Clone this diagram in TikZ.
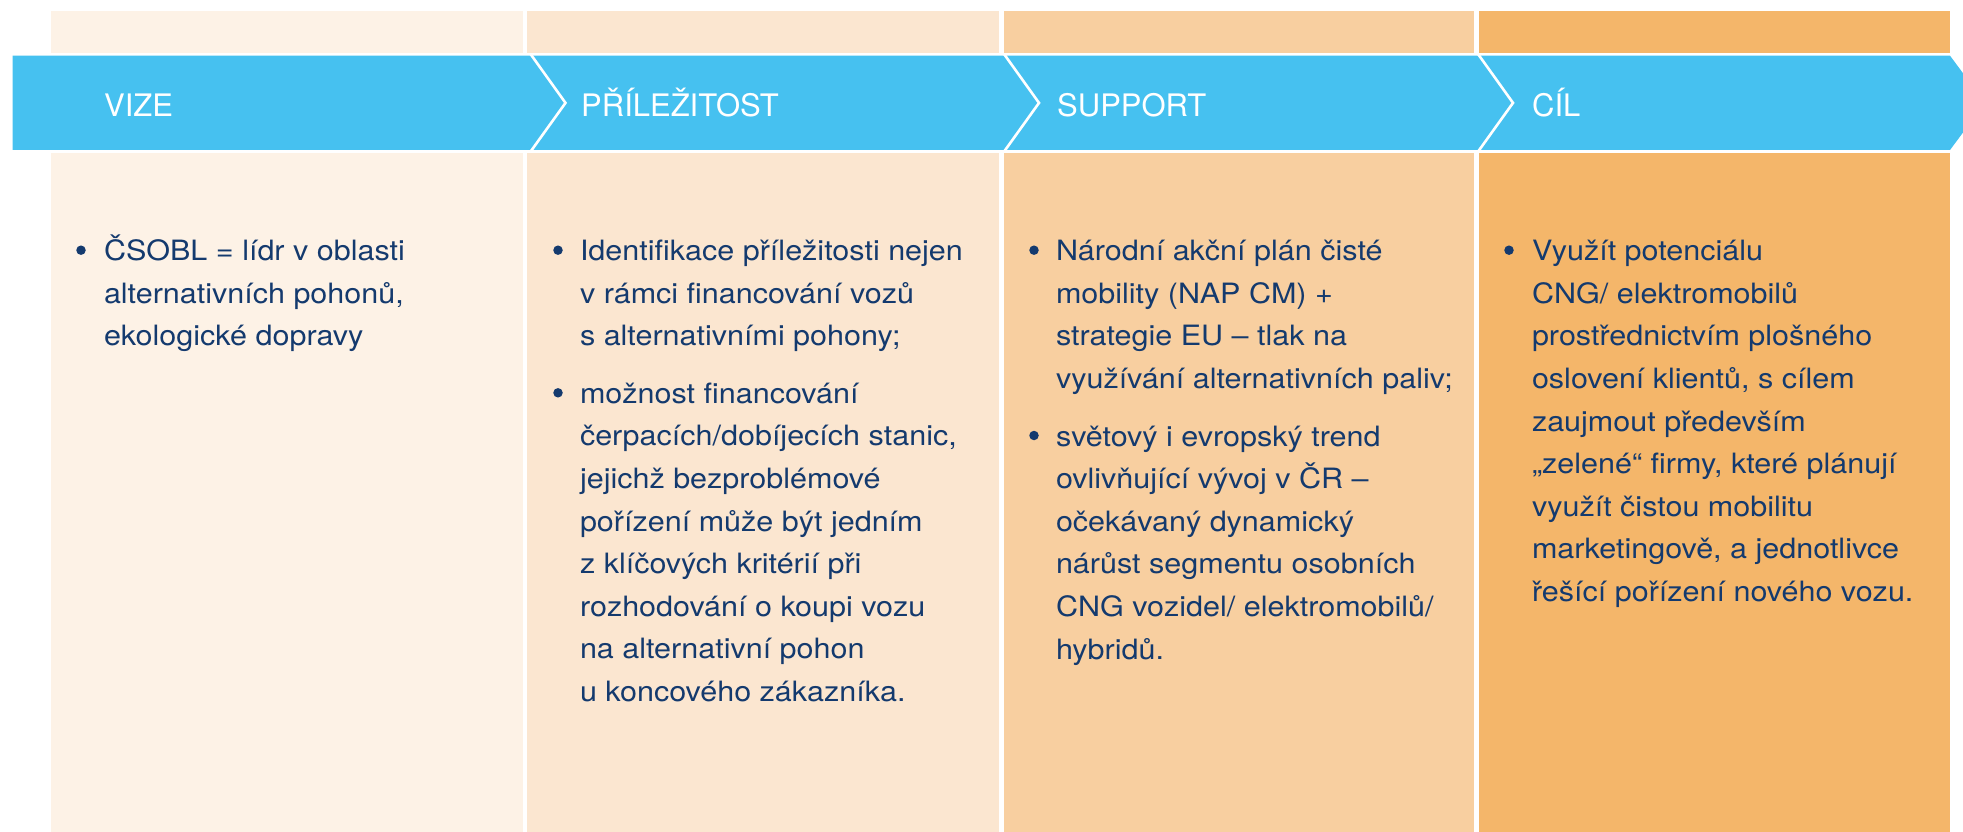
\documentclass[tikz,border=0pt]{standalone}
\usepackage{fontspec}
\setmainfont{TeX Gyre Heros}
\newfontfamily\bodyfam[FakeStretch=1.09]{TeX Gyre Heros}
\definecolor{colA}{HTML}{FDF2E6}
\definecolor{colB}{HTML}{FBE6D0}
\definecolor{colC}{HTML}{F8CFA0}
\definecolor{colD}{HTML}{F4B66A}
\definecolor{bandblue}{HTML}{46C1F0}
\definecolor{navy}{HTML}{143A6E}
\tikzset{
  body/.style={anchor=north west, inner sep=0pt, outer sep=0pt, align=left, text=navy,
    font=\bodyfam\fontsize{28}{42.6}\selectfont},
  head/.style={anchor=base west, inner sep=0pt, text=white,
    font=\fontsize{31}{36}\selectfont},
  bulletdot/.style={circle, fill=navy, inner sep=0pt, minimum size=9.5pt},
  chev/.style={draw=white, line width=2.6pt, line join=miter}
}
\begin{document}
\begin{tikzpicture}[x=1pt,y=-1pt]
\useasboundingbox (0,0) rectangle (1963,832);
\clip (0,0) rectangle (1963,832);
% columns
\fill[colA] (51,11) rectangle (522.5,832);
\fill[colB] (527,11) rectangle (999,832);
\fill[colC] (1003.5,11) rectangle (1474,832);
\fill[colD] (1478.5,11) rectangle (1950,832);
% white strip behind band
\fill[white] (0,53.3) rectangle (1963,152.7);
% band
\fill[bandblue] (12.6,55.7) -- (1950,55.7) -- (1985,102.9) -- (1950,150) -- (12.6,150) -- cycle;
\draw[chev] (530.5,54) -- (565.5,102.9) -- (530.5,151.7);
\draw[chev] (1004,54) -- (1039,102.9) -- (1004,151.7);
\draw[chev] (1478,54) -- (1513,102.9) -- (1478,151.7);
% headers
\node[head] (h1) at (104,116.7) {VIZE};
\node[head] (h2) at (581,116.7) {PŘÍLEŽITOST};
\node[head] (h3) at (1057,116.7) {SUPPORT};
\node[head] (h4) at (1532,116.7) {CÍL};
% column 1
\node[bulletdot] (b11) at (81,250.2) {};
\node[body] (t11) at (104,230.9) {\strut ČSOBL = lídr v oblasti\\alternativních pohonů,\\ekologické dopravy};
% column 2
\node[bulletdot] (b21) at (558,250.2) {};
\node[body] (t21) at (580,230.9) {\strut Identifikace příležitosti nejen\\v rámci financování vozů\\s alternativními pohony;};
\node[bulletdot] (b22) at (558,392.8) {};
\node[body] (t22) at (580,373.5) {\strut možnost financování\\čerpacích/dobíjecích stanic,\\jejichž bezproblémové\\pořízení může být jedním\\z klíčových kritérií při\\rozhodování o koupi vozu\\na alternativní pohon\\u koncového zákazníka.};
% column 3
\node[bulletdot] (b31) at (1034,250.2) {};
\node[body] (t31) at (1056,230.9) {\strut Národní akční plán čisté\\mobility (NAP CM) +\\strategie EU – tlak na\\využívání alternativních paliv;};
\node[bulletdot] (b32) at (1034,435.5) {};
\node[body] (t32) at (1056,416.2) {\strut světový i evropský trend\\ovlivňující vývoj v ČR –\\očekávaný dynamický\\nárůst segmentu osobních\\CNG vozidel/ elektromobilů/\\hybridů.};
% column 4
\node[bulletdot] (b41) at (1509,250.2) {};
\node[body] (t41) at (1532,230.9) {\strut Využít potenciálu\\CNG/ elektromobilů\\prostřednictvím plošného\\oslovení klientů, s cílem\\zaujmout především\\„zelené“ firmy, které plánují\\využít čistou mobilitu\\marketingově, a jednotlivce\\řešící pořízení nového vozu.};
\end{tikzpicture}
\end{document}
